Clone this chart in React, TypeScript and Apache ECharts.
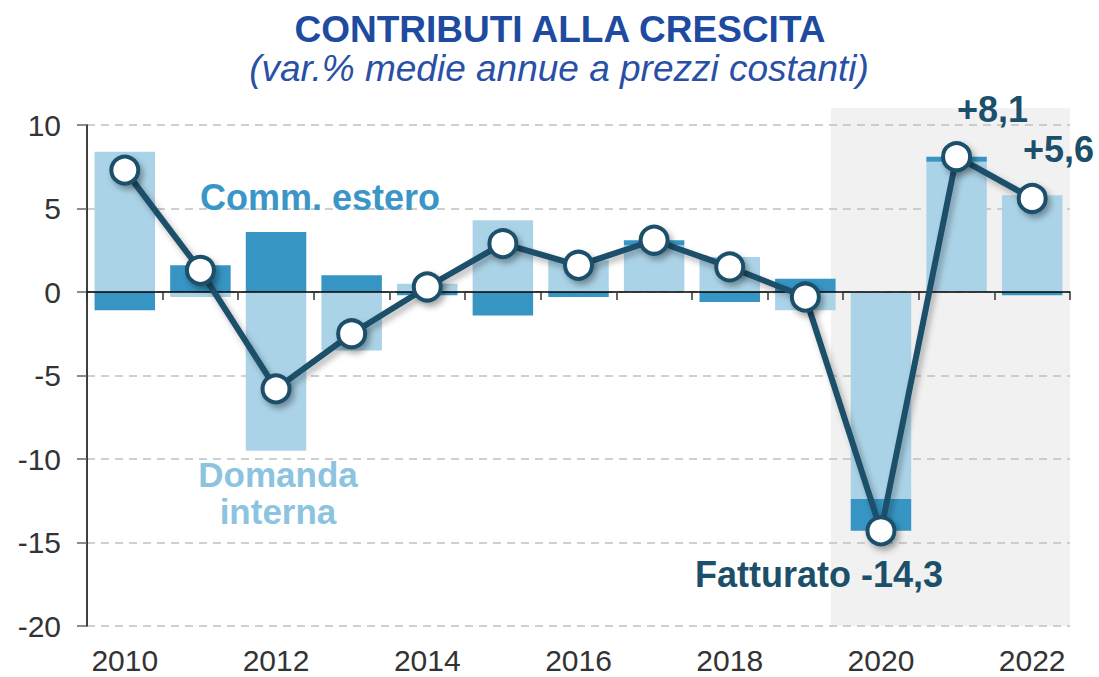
import React, { useEffect, useRef } from "react";
import * as echarts from "echarts";

const years = ["2010", "2011", "2012", "2013", "2014", "2015", "2016", "2017", "2018", "2019", "2020", "2021", "2022"];
const domandaInterna = [8.4, -0.3, -9.5, -3.5, 0.5, 4.3, 1.9, 2.8, 2.1, -1.1, -12.4, 7.8, 5.8];
const commEstero = [-1.1, 1.6, 3.6, 1.0, -0.2, -1.4, -0.3, 0.3, -0.6, 0.8, -1.9, 0.3, -0.2];
const fatturato = [7.3, 1.3, -5.8, -2.5, 0.3, 2.9, 1.6, 3.1, 1.5, -0.3, -14.3, 8.1, 5.6];
const yMin = -20;
const yMax = 10;
const yInterval = 5;
const shadeTop = 11;
const shadeStartYear = "2020";

const FONT = "'Liberation Sans', Arial, sans-serif";
const LINE_COLOR = "#1b4f6a";
const LIGHT = "#abd3e7";
const DARK = "#3795c4";

export default function App() {
  const ref = useRef<HTMLDivElement>(null);
  useEffect(() => {
    if (!ref.current) return;
    const chart = echarts.init(ref.current, null, { renderer: "svg" });
    const option: any = {
      animation: false,
      backgroundColor: "#fff",
      grid: { left: 87, right: 29, top: 125, bottom: 51, containLabel: false },
      xAxis: [
        {
          type: "category",
          data: years,
          boundaryGap: true,
          axisLine: { show: true, onZero: true, lineStyle: { color: "#000", width: 1.5 } },
          axisTick: { show: true, length: 8, alignWithLabel: false, lineStyle: { color: "#333", width: 1.5 } },
          axisLabel: { show: false },
          splitLine: { show: false },
          z: 5,
        },
        {
          type: "category",
          data: years,
          position: "bottom",
          boundaryGap: true,
          axisLine: { show: false, onZero: false },
          axisTick: { show: false },
          axisLabel: { show: true, interval: 1, fontSize: 30, color: "#333", fontFamily: FONT, margin: 19 },
          splitLine: { show: false },
        },
      ],
      yAxis: {
        type: "value",
        min: yMin,
        max: yMax,
        interval: yInterval,
        axisLine: { show: true, lineStyle: { color: "#000", width: 1.5 } },
        axisTick: { show: true, length: 10, lineStyle: { color: "#666", width: 1.5 } },
        axisLabel: { fontSize: 30, color: "#333", fontFamily: FONT, margin: 26 },
        splitLine: { show: true, lineStyle: { color: "#c0c0c0", width: 1.5, type: [8, 6] } },
      },
      series: [
        {
          name: "Domanda interna",
          type: "bar",
          stack: "c",
          data: domandaInterna,
          barWidth: "80%",
          itemStyle: { color: LIGHT },
          z: 2,
        },
        {
          name: "Comm. estero",
          type: "bar",
          stack: "c",
          data: commEstero,
          barWidth: "80%",
          itemStyle: { color: DARK },
          z: 2,
        },
        {
          name: "Fatturato",
          type: "line",
          data: fatturato,
          symbol: "circle",
          symbolSize: 27,
          z: 10,
          lineStyle: {
            color: LINE_COLOR,
            width: 6,
            shadowColor: "rgba(0,0,0,0.3)",
            shadowBlur: 6,
            shadowOffsetX: 3,
            shadowOffsetY: 4,
          },
          itemStyle: {
            color: "#fff",
            borderColor: LINE_COLOR,
            borderWidth: 4,
            shadowColor: "rgba(0,0,0,0.35)",
            shadowBlur: 6,
            shadowOffsetX: 3,
            shadowOffsetY: 4,
          },
        },
      ],
    };
    chart.setOption(option);

    const c0 = chart.convertToPixel({ xAxisIndex: 0 }, shadeStartYear) as number;
    const c1 = chart.convertToPixel({ xAxisIndex: 0 }, years[years.indexOf(shadeStartYear) + 1]) as number;
    const band = c1 - c0;
    const cLast = chart.convertToPixel({ xAxisIndex: 0 }, years[years.length - 1]) as number;
    const x0 = c0 - band * 0.66;
    const x1 = cLast + band / 2;
    const yTop = chart.convertToPixel({ yAxisIndex: 0 }, shadeTop) as number;
    const yBot = chart.convertToPixel({ yAxisIndex: 0 }, yMin) as number;

    const txt = (text: string, x: number, y: number, font: string, fill: string, align = "left") => ({
      type: "text",
      z: 20,
      silent: true,
      style: { text, x, y, textAlign: align, textVerticalAlign: "middle", font, fill },
    });

    chart.setOption({
      graphic: [
        {
          type: "rect",
          z: -10,
          silent: true,
          shape: { x: x0, y: yTop, width: x1 - x0, height: yBot - yTop },
          style: { fill: "#f1f1f1" },
        },
        txt("CONTRIBUTI ALLA CRESCITA", 560, 29, `bold 37px ${FONT}`, "#1e4ba0", "center"),
        txt("(var.% medie annue a prezzi costanti)", 559, 68, `italic 37px ${FONT}`, "#2a50a5", "center"),
        txt("Comm. estero", 320, 197, `bold 36px ${FONT}`, "#3a96c6", "center"),
        txt("Domanda", 278, 474, `bold 35px ${FONT}`, "#8cc4df", "center"),
        txt("interna", 278, 511, `bold 35px ${FONT}`, "#8cc4df", "center"),
        txt("Fatturato -14,3", 695, 574, `bold 36px ${FONT}`, LINE_COLOR),
        txt("+8,1", 957, 109, `bold 36px ${FONT}`, LINE_COLOR),
        txt("+5,6", 1023, 149, `bold 36px ${FONT}`, LINE_COLOR),
      ],
    });

    return () => chart.dispose();
  }, []);
  return (
    <div
      ref={ref}
      style={{ position: "fixed", left: 0, top: 0, width: 1099, height: 677, background: "#fff" }}
    />
  );
}
